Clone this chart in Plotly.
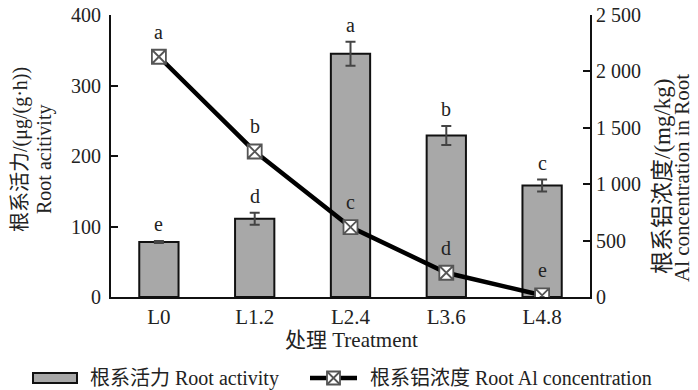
import plotly.graph_objects as go

categories = ["L0", "L1.2", "L2.4", "L3.6", "L4.8"]
root_activity = [78, 111, 345, 229, 158]
root_activity_err = [1.5, 8.5, 17, 13.5, 8.5]
activity_letters = ["e", "d", "a", "b", "c"]
al_conc = [2130, 1290, 620, 215, 15]
al_letters = ["a", "b", "c", "d", "e"]
left_ticks = [0, 100, 200, 300, 400]
right_ticks = [0, 500, 1000, 1500, 2000, 2500]
right_ticktext = ["0", "500", "1 000", "1 500", "2 000", "2 500"]

FONT = "Liberation Serif, Times New Roman, Noto Sans CJK SC, serif"
TXT = "#222222"
BAR_FILL = "#a8a8a8"

# page geometry: the page body adds an 8px offset, so the figure is shrunk by that
PW, PH = 698, 390
OX, OY = 8, 8
L, R, T, B = 111, 590, 15, 297   # plot area in page pixels
W, H = R - L, B - T
def px(x):
    return (x - L) / W
def py(y):
    return (B - y) / H

fig = go.Figure()
fig.add_trace(go.Bar(
    x=categories, y=root_activity, name="根系活力 Root activity",
    marker=dict(color=BAR_FILL, line=dict(color="#111111", width=2)),
    width=0.41,
    error_y=dict(type="data", array=root_activity_err, color="#444444", thickness=2, width=5),
    yaxis="y",
))
fig.add_trace(go.Scatter(
    x=categories, y=al_conc, name="根系铝浓度 Root Al concentration",
    mode="lines+markers",
    line=dict(color="#000000", width=4.5),
    marker=dict(symbol="square-x", size=14, color="#ffffff", line=dict(color="#555555", width=1.8)),
    yaxis="y2",
))

annotations = []
for c, v, e, t in zip(categories, root_activity, root_activity_err, activity_letters):
    annotations.append(dict(x=c, y=v + e, xref="x", yref="y", text=t, showarrow=False,
                            yanchor="middle", yshift=17, font=dict(family=FONT, size=20, color=TXT)))
for c, v, t in zip(categories, al_conc, al_letters):
    annotations.append(dict(x=c, y=v, xref="x", yref="y2", text=t, showarrow=False,
                            yanchor="middle", yshift=25, font=dict(family=FONT, size=20, color=TXT)))

annotations += [
    dict(x=px(20), y=py(150), xref="paper", yref="paper", text="根系活力/(μg/(g·h))", textangle=-90,
         showarrow=False, xanchor="center", yanchor="middle", font=dict(family=FONT, size=20, color=TXT)),
    dict(x=px(44), y=py(160), xref="paper", yref="paper", text="Root acitivity", textangle=-90,
         showarrow=False, xanchor="center", yanchor="middle", font=dict(family=FONT, size=20, color=TXT)),
    dict(x=px(662), y=py(176), xref="paper", yref="paper", text="根系铝浓度/(mg/kg)", textangle=-90,
         showarrow=False, xanchor="center", yanchor="middle", font=dict(family=FONT, size=23, color=TXT)),
    dict(x=px(682), y=py(178), xref="paper", yref="paper", text="Al concentration in Root", textangle=-90,
         showarrow=False, xanchor="center", yanchor="middle", font=dict(family=FONT, size=21, color=TXT)),
    dict(x=px(351), y=py(340), xref="paper", yref="paper", text="处理 Treatment",
         showarrow=False, xanchor="center", yanchor="middle", font=dict(family=FONT, size=21, color=TXT)),
    # legend texts
    dict(x=px(88), y=py(378), xref="paper", yref="paper", text="根系活力 Root activity",
         showarrow=False, xanchor="left", yanchor="middle", font=dict(family=FONT, size=20, color=TXT)),
    dict(x=px(368), y=py(378), xref="paper", yref="paper", text="根系铝浓度 Root Al concentration",
         showarrow=False, xanchor="left", yanchor="middle", font=dict(family=FONT, size=20, color=TXT)),
]

shapes = [
    # legend bar symbol
    dict(type="rect", xref="paper", yref="paper", x0=px(33), x1=px(77), y0=py(383), y1=py(373),
         fillcolor=BAR_FILL, line=dict(color="#111111", width=2)),
    # legend line symbol
    dict(type="line", xref="paper", yref="paper", x0=px(310), x1=px(357), y0=py(378), y1=py(378),
         line=dict(color="#000000", width=4.5)),
    dict(type="rect", xref="paper", yref="paper", x0=px(327), x1=px(340), y0=py(384.5), y1=py(371.5),
         fillcolor="#ffffff", line=dict(color="#555555", width=1.8)),
    dict(type="line", xref="paper", yref="paper", x0=px(327), x1=px(340), y0=py(384.5), y1=py(371.5),
         line=dict(color="#555555", width=1.8)),
    dict(type="line", xref="paper", yref="paper", x0=px(327), x1=px(340), y0=py(371.5), y1=py(384.5),
         line=dict(color="#555555", width=1.8)),
]

fig.update_layout(
    width=PW - OX, height=PH - OY,
    margin=dict(l=L - OX, r=PW - R, t=T - OY, b=PH - B, pad=0, autoexpand=False),
    paper_bgcolor="white", plot_bgcolor="white",
    font=dict(family=FONT, size=20, color=TXT),
    showlegend=False,
    xaxis=dict(showline=True, linecolor="#111", linewidth=2, ticks="", showgrid=False,
               automargin=False, tickfont=dict(family=FONT, size=21, color=TXT)),
    yaxis=dict(range=[0, 400], tickvals=left_ticks, showline=True, linecolor="#111", linewidth=2,
               ticks="inside", ticklen=7, tickwidth=2, tickcolor="#111", showgrid=False, zeroline=False,
               automargin=False, ticklabelstandoff=4, ticklabeloverflow="allow",
               tickfont=dict(family=FONT, size=20, color=TXT)),
    yaxis2=dict(range=[0, 2500], tickvals=right_ticks, ticktext=right_ticktext, overlaying="y", side="right",
                showline=True, linecolor="#111", linewidth=2, ticks="inside", ticklen=7, tickwidth=2,
                tickcolor="#111", showgrid=False, zeroline=False, automargin=False,
                ticklabeloverflow="allow", tickfont=dict(family=FONT, size=20, color=TXT)),
    annotations=annotations,
    shapes=shapes,
)

fig.write_html("out.html")
